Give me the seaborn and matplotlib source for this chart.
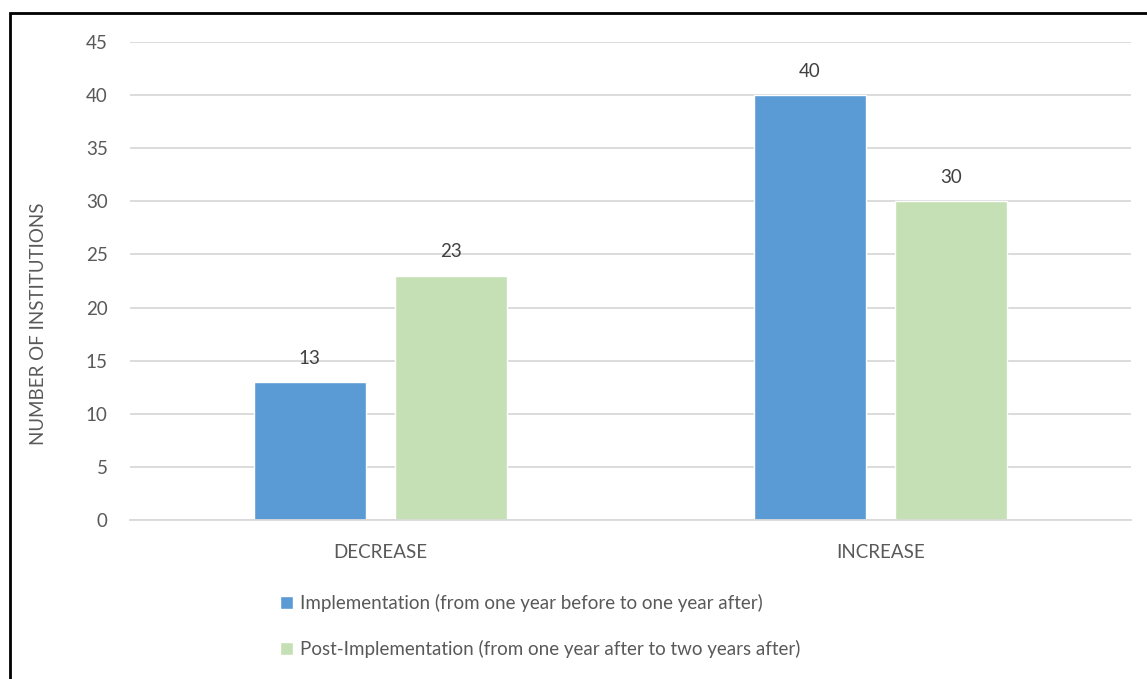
import pandas as pd
import matplotlib as mpl
mpl.use('Agg')
import matplotlib.pyplot as plt
import seaborn as sns
from matplotlib.patches import Rectangle, Patch

categories = ['DECREASE', 'INCREASE']
series = ['Implementation (from one year before to one year after)',
          'Post-Implementation (from one year after to two years after)']
implementation = [13, 40]
post_implementation = [23, 30]
colors = ['#5B9BD5', '#C5E0B4']

df = pd.DataFrame({
    'change': categories * 2,
    'period': [series[0]] * 2 + [series[1]] * 2,
    'count': implementation + post_implementation,
})

sns.set_style('white')
plt.rcParams['font.family'] = ['Lato', 'DejaVu Sans']
text_color = '#595959'
fs = 13.5

fig = plt.figure(figsize=(11.47, 6.79), dpi=100)
ax = fig.add_axes([0.1133, 0.2342, 0.8727, 0.704])

sns.barplot(data=df, x='change', y='count', hue='period', palette=colors,
            width=0.564, gap=0.206, ax=ax, legend=False, saturation=1)

for c in ax.containers:
    ax.bar_label(c, padding=11, fontsize=fs, color='#404040')

ax.set_xlim(-0.5, 1.5)
ax.set_ylim(0, 45)
ax.set_yticks(range(0, 46, 5))
ax.yaxis.grid(True, color='#D9D9D9', linewidth=1.3)
ax.set_axisbelow(True)
for s in ['top', 'right', 'left']:
    ax.spines[s].set_visible(False)
ax.spines['bottom'].set_color('#D9D9D9')
ax.spines['bottom'].set_linewidth(1.3)
ax.tick_params(axis='both', length=0, labelsize=fs, colors=text_color)
ax.tick_params(axis='y', pad=16)
ax.tick_params(axis='x', pad=17)
ax.set_xlabel('')
ax.set_ylabel('NUMBER OF INSTITUTIONS', fontsize=fs, color=text_color)
ax.yaxis.set_label_coords(-0.083, 0.41)

handles = [Patch(facecolor=colors[0]), Patch(facecolor=colors[1])]
leg = fig.legend(handles, series, loc='upper left', bbox_to_anchor=(0.244, 0.125),
                 ncol=1, frameon=False, fontsize=fs, labelspacing=1.5,
                 handlelength=0.7, handleheight=0.7, handletextpad=0.4,
                 borderaxespad=0, borderpad=0)
for t in leg.get_texts():
    t.set_color(text_color)

fig.patches.append(Rectangle((10 / 1147, -0.05), 1.1, 1 - 13 / 679 + 0.05,
                             transform=fig.transFigure, fill=False,
                             edgecolor='black', linewidth=2))

fig.savefig('out.png', dpi=100)
